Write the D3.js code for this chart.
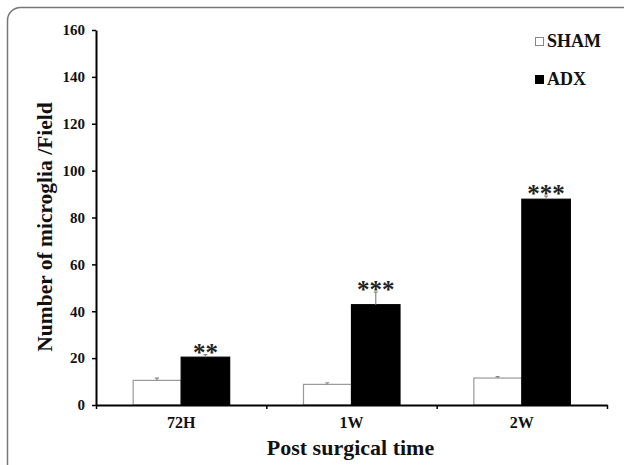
<!DOCTYPE html>
<html>
<head>
<meta charset="utf-8">
<script src="https://cdn.jsdelivr.net/npm/d3@7"></script>
<style>
  body { margin: 0; background: #fff; }
  svg { display: block; }
  text { font-family: "Liberation Serif", "Times New Roman", serif; font-weight: bold; fill: #111; }
</style>
</head>
<body>
<svg id="chart" width="624" height="465"></svg>
<script>
// data
const timepoints = ['72H', '1W', '2W'];
const groups = ['SHAM', 'ADX'];
const shamMeans = [10.5, 8.8, 11.5];
const shamErrors = [1.0, 0.7, 0.6];
const adxMeans = [20.4, 42.8, 87.8];
const adxErrors = [1.1, 5.4, 1.3];
const adxStars = ['**', '***', '***'];
const yTicks = [0, 20, 40, 60, 80, 100, 120, 140, 160];

const svg = d3.select('#chart');

// rounded frame running off the right and bottom edges
svg.append('rect')
  .attr('x', 7.5).attr('y', 7.5)
  .attr('width', 640).attr('height', 480)
  .attr('rx', 13).attr('ry', 13)
  .attr('fill', 'none')
  .attr('stroke', '#777')
  .attr('stroke-width', 1.5);

const plotLeft = 96, plotRight = 607, plotTop = 30, plotBottom = 405;

const y = d3.scaleLinear().domain([0, 160]).range([plotBottom, plotTop]);
const x0 = d3.scaleBand().domain(timepoints).range([plotLeft, plotRight]);
const x1 = d3.scaleBand().domain(groups).range([0, x0.bandwidth()]).paddingOuter(0.756);

const rows = timepoints.map((t, i) => ({
  t,
  bars: [
    { g: 'SHAM', v: shamMeans[i], e: shamErrors[i] },
    { g: 'ADX', v: adxMeans[i], e: adxErrors[i] }
  ],
  star: adxStars[i]
}));

// bars
const grp = svg.append('g').selectAll('g')
  .data(rows)
  .join('g')
  .attr('transform', d => 'translate(' + x0(d.t) + ',0)');

grp.selectAll('rect')
  .data(d => d.bars)
  .join('rect')
  .attr('x', d => x1(d.g) + (d.g === 'SHAM' ? 0.5 : 0))
  .attr('y', d => y(d.v))
  .attr('width', d => x1.bandwidth() - (d.g === 'SHAM' ? 0.5 : 0))
  .attr('height', d => plotBottom - y(d.v))
  .attr('fill', d => d.g === 'SHAM' ? '#fff' : '#000')
  .attr('stroke', d => d.g === 'SHAM' ? '#999' : '#000')
  .attr('stroke-width', 1.2);

// error bars (upper half only)
grp.selectAll('path.err')
  .data(d => d.bars)
  .join('path')
  .attr('class', 'err')
  .attr('d', d => {
    const cx = x1(d.g) + x1.bandwidth() / 2;
    const y1 = y(d.v), y2 = y(d.v + d.e);
    return 'M' + cx + ',' + y1 + 'V' + y2 + 'M' + (cx - 2) + ',' + y2 + 'H' + (cx + 2);
  })
  .attr('fill', 'none')
  .attr('stroke', '#888')
  .attr('stroke-width', 1.2);

// significance stars above ADX bars
grp.append('text')
  .attr('x', x1('ADX') + x1.bandwidth() / 2)
  .attr('y', d => y(d.bars[1].v + d.bars[1].e) + 6)
  .attr('text-anchor', 'middle')
  .style('font-size', '25px')
  .style('fill', '#222')
  .text(d => d.star);

// y axis
const yAxis = svg.append('g')
  .attr('transform', 'translate(' + plotLeft + ',0)')
  .call(d3.axisLeft(y).tickValues(yTicks).tickSize(4).tickSizeOuter(0).tickPadding(7));
yAxis.select('.domain').attr('stroke-width', 2);
yAxis.selectAll('.tick line').attr('stroke-width', 1.5);
yAxis.selectAll('.tick text').style('font-size', '15px');

// x axis: line with ticks at the category edges
const edges = x0.domain().map(d => x0(d)).concat([plotRight]);
const xAxis = svg.append('g')
  .attr('transform', 'translate(0,' + plotBottom + ')')
  .call(d3.axisBottom(d3.scaleLinear().domain([plotLeft, plotRight]).range([plotLeft, plotRight]))
    .tickValues(edges).tickSize(4).tickSizeOuter(0).tickFormat(''));
xAxis.select('.domain').attr('stroke-width', 2);
xAxis.selectAll('.tick line').attr('stroke-width', 1.5);

// category labels
svg.append('g')
  .attr('transform', 'translate(0,' + plotBottom + ')')
  .call(d3.axisBottom(x0).tickSize(0).tickPadding(12))
  .call(g => g.select('.domain').remove())
  .selectAll('text')
  .style('font-size', '16px');

// axis titles
svg.append('text')
  .attr('x', (plotLeft + plotRight) / 2 - 1)
  .attr('y', 455)
  .attr('text-anchor', 'middle')
  .style('font-size', '22px')
  .text('Post surgical time');

svg.append('text')
  .attr('transform', 'translate(52,' + 227 + ') rotate(-90)')
  .attr('text-anchor', 'middle')
  .style('font-size', '21.5px')
  .text('Number of microglia /Field');

// legend
const legend = svg.append('g').selectAll('g')
  .data(groups)
  .join('g')
  .attr('transform', (d, i) => 'translate(535,' + (37 + i * 38) + ')');
legend.append('rect')
  .attr('x', 0.5).attr('y', 0.5)
  .attr('width', 8).attr('height', 8)
  .attr('fill', d => d === 'SHAM' ? '#fff' : '#000')
  .attr('stroke', d => d === 'SHAM' ? '#888' : '#000');
legend.append('text')
  .attr('x', 12).attr('y', 9.5)
  .style('font-size', '18px')
  .text(d => d);
</script>
</body>
</html>
